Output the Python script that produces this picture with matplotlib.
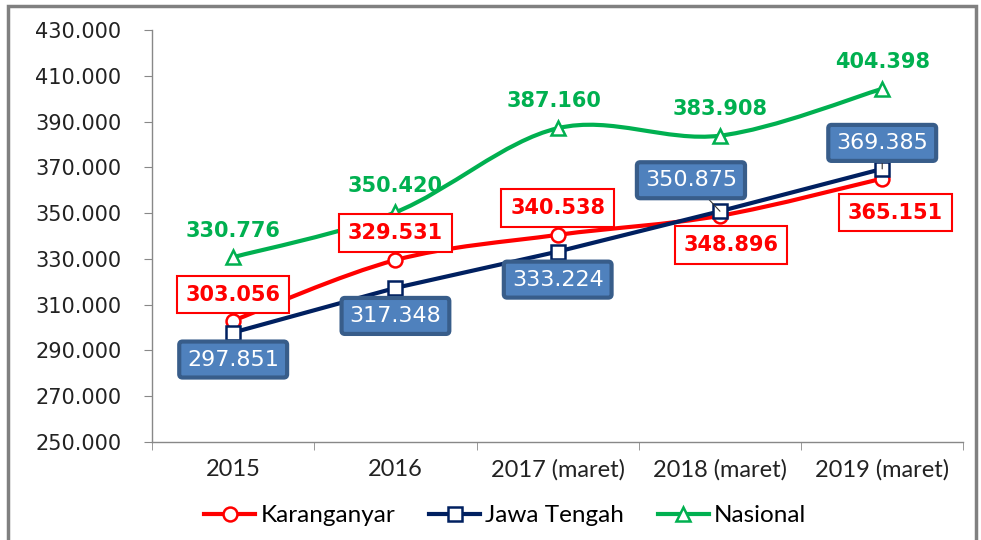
import numpy as np
import matplotlib
matplotlib.use("Agg")
from matplotlib import pyplot as plt
from matplotlib.path import Path
from matplotlib.patches import PathPatch, Rectangle
from matplotlib.lines import Line2D
from matplotlib.ticker import FuncFormatter

categories = ["2015", "2016", "2017 (maret)", "2018 (maret)", "2019 (maret)"]
karanganyar = [303.056, 329.531, 340.538, 348.896, 365.151]
jawa_tengah = [297.851, 317.348, 333.224, 350.875, 369.385]
nasional = [330.776, 350.420, 387.160, 383.908, 404.398]

RED = "#FF0000"
NAVY = "#002060"
GREEN = "#00B050"
BOXBLUE = "#4F81BD"
BOXEDGE = "#385D8A"


def smooth_path(xs, ys):
    # Catmull-Rom style bezier, like excel "smoothed line"
    pts = np.column_stack([xs, ys]).astype(float)
    n = len(pts)
    verts = [pts[0]]
    codes = [Path.MOVETO]
    for i in range(n - 1):
        p0 = pts[i - 1] if i > 0 else pts[i]
        p1 = pts[i]
        p2 = pts[i + 1]
        p3 = pts[i + 2] if i + 2 < n else pts[i + 1]
        c1 = p1 + (p2 - p0) / 6.0
        c2 = p2 - (p3 - p1) / 6.0
        verts += [c1, c2, p2]
        codes += [Path.CURVE4] * 3
    return Path(verts, codes)


fig = plt.figure(figsize=(9.81, 5.4), dpi=100)
ax = fig.add_axes([0.155, 0.1815, 0.827, 0.7625])

x = np.arange(len(categories))

ax.add_patch(PathPatch(smooth_path(x, nasional), fill=False, color=GREEN, lw=3, zorder=2))
ax.add_patch(PathPatch(smooth_path(x, karanganyar), fill=False, color=RED, lw=3, zorder=3))
ax.plot(x, jawa_tengah, color=NAVY, lw=3, zorder=4)

ax.plot(x, nasional, ls="none", marker="^", ms=10, mfc="white", mec=GREEN, mew=1.8, zorder=5)
ax.plot(x, karanganyar, ls="none", marker="o", ms=10, mfc="white", mec=RED, mew=1.8, zorder=5)
ax.plot(x, jawa_tengah, ls="none", marker="s", ms=10, mfc="white", mec=NAVY, mew=1.8, zorder=6)

ax.set_xlim(-0.5, len(categories) - 0.5)
ax.set_ylim(250, 430)
ax.set_yticks(np.arange(250, 431, 20))
ax.yaxis.set_major_formatter(FuncFormatter(lambda v, p: "%d.000" % v))
ax.set_xticks(x)
ax.set_xticklabels(categories, fontsize=17, family="Lato", color="#222222")
ax.set_xticks(np.arange(-0.5, len(categories), 1.0), minor=True)
ax.tick_params(axis="x", which="major", length=0, pad=12)
ax.tick_params(axis="x", which="minor", length=6, color="#888888", direction="out")
ax.tick_params(axis="y", length=6, color="#888888", direction="out", labelsize=15, pad=16, labelcolor="#222222")
for s in ["top", "right"]:
    ax.spines[s].set_visible(False)
for s in ["left", "bottom"]:
    ax.spines[s].set_color("#888888")
    ax.spines[s].set_linewidth(1)

# offsets in pixels from each point
red_off = [(0, 26), (0, 27), (0, 27), (11, -29), (13, -34)]
blue_off = [(0, -27), (0, -28), (0, -28), (-29, 31), (0, 26)]
green_off = [(0, 26), (0, 26), (-4, 27), (0, 27), (0, 27)]

for i, v in enumerate(karanganyar):
    ax.annotate(("%.3f" % v), (x[i], v), xytext=red_off[i], textcoords="offset pixels",
                ha="center", va="center", color=RED, fontsize=15, fontweight="bold",
                bbox=dict(boxstyle="square,pad=0.42", fc="white", ec=RED, lw=1.5), zorder=7)

for i, v in enumerate(jawa_tengah):
    arrow = None
    if i >= 3:
        arrow = dict(arrowstyle="-", color="#333333", lw=0.8, shrinkA=0, shrinkB=0)
    ax.annotate(("%.3f" % v), (x[i], v), xytext=blue_off[i], textcoords="offset pixels",
                ha="center", va="center", color="white", fontsize=16,
                bbox=dict(boxstyle="round,pad=0.36,rounding_size=0.15", fc=BOXBLUE, ec=BOXEDGE, lw=3),
                arrowprops=arrow, zorder=7)

for i, v in enumerate(nasional):
    ax.annotate(("%.3f" % v), (x[i], v), xytext=green_off[i], textcoords="offset pixels",
                ha="center", va="center", color=GREEN, fontsize=15, fontweight="bold", zorder=7)

handles = [
    Line2D([], [], color=RED, lw=3, marker="o", ms=10, mfc="white", mec=RED, mew=1.8),
    Line2D([], [], color=NAVY, lw=3, marker="s", ms=10, mfc="white", mec=NAVY, mew=1.8),
    Line2D([], [], color=GREEN, lw=3, marker="^", ms=10, mfc="white", mec=GREEN, mew=1.8),
]
fig.legend(handles, ["Karanganyar", "Jawa Tengah", "Nasional"], loc="center",
           bbox_to_anchor=(0.515, 0.045), ncol=3, frameon=False, handlelength=2.1,
           handletextpad=0.2, columnspacing=1.4, prop=dict(family="Lato", size=17.5))

fig.patches.append(Rectangle((0.008, -0.05), 0.987, 1.039, transform=fig.transFigure,
                             fill=False, ec="#808080", lw=2.5))

fig.savefig("out.png", dpi=100)
